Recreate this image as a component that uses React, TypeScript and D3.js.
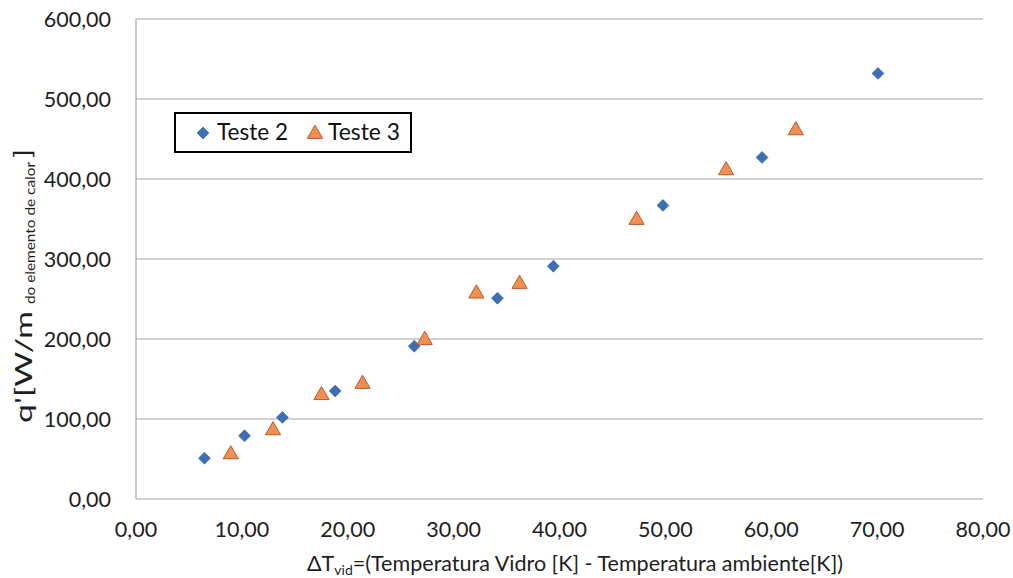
import React from "react";
import * as d3 from "d3";

// Teste 2 measurements (diamonds)
const teste2X = [6.46, 10.25, 13.83, 18.81, 26.28, 34.14, 39.42, 49.77, 59.13, 70.08];
const teste2Y = [51, 79, 102, 135, 191, 251, 291, 367, 427, 532];

// Teste 3 measurements (triangles)
const teste3X = [8.95, 12.94, 17.52, 21.4, 27.27, 32.15, 36.23, 47.28, 55.74, 62.32];
const teste3Y = [57, 87, 131, 145, 200, 258, 270, 350, 412, 462];

const xTicks = [0, 10, 20, 30, 40, 50, 60, 70, 80];
const yTicks = [0, 100, 200, 300, 400, 500, 600];

const seriesNames = ["Teste 2", "Teste 3"];

const W = 1013;
const H = 578;
const FONT = "Lato, 'Open Sans', sans-serif";
const TEXT = "#1e1e1e";
const BLUE = "#3D6FB5";
const BLUE_EDGE = "#2F5A96";
const ORANGE = "#F08F52";
const ORANGE_EDGE = "#B85A2B";

const fmt = (v: number) => v.toFixed(2).replace(".", ",");

const diamond = d3.symbol().type(d3.symbolDiamond2).size(90);
const triangle = d3.symbol().type(d3.symbolTriangle).size(100);

export default function App() {
  const x = d3.scaleLinear().domain([0, 80]).range([136, 983]);
  const y = d3.scaleLinear().domain([0, 600]).range([499, 19]);

  return (
    <svg
      width={W}
      height={H}
      style={{ position: "absolute", left: 0, top: 0, background: "#fff" }}
      fontFamily={FONT}
    >
      {/* horizontal gridlines */}
      {yTicks.map((t) => (
        <line
          key={"g" + t}
          x1={x(0)}
          x2={x(80)}
          y1={y(t)}
          y2={y(t)}
          stroke="#A6A6A6"
          strokeWidth={1.2}
        />
      ))}
      {/* vertical axis line */}
      <line x1={x(0)} x2={x(0)} y1={y(600)} y2={y(0)} stroke="#A6A6A6" strokeWidth={1.2} />

      {/* y tick labels */}
      {yTicks.map((t) => (
        <text key={"yl" + t} x={111} y={y(t) + 7.5} textAnchor="end" fontSize={21.5} fill={TEXT}>
          {fmt(t)}
        </text>
      ))}

      {/* x tick labels */}
      {xTicks.map((t) => (
        <text key={"xl" + t} x={x(t)} y={537} textAnchor="middle" fontSize={21.5} fill={TEXT}>
          {fmt(t)}
        </text>
      ))}

      {/* x axis title */}
      <text
        x={307}
        y={571}
        fontSize={21.5}
        fill={TEXT}
        textLength={536}
        lengthAdjust="spacingAndGlyphs"
      >
        ΔT
        <tspan fontSize={14} dy={4}>vid</tspan>
        <tspan dy={-4}>=(Temperatura Vidro [K] - Temperatura ambiente[K])</tspan>
      </text>

      {/* y axis title, rotated */}
      <g transform="rotate(-90)">
        <text
          x={-423}
          y={32}
          fontSize={24}
          fill={TEXT}
          textLength={112}
          lengthAdjust="spacingAndGlyphs"
        >
          q'[W/m
        </text>
        <text
          x={-304}
          y={35}
          fontSize={14}
          fill={TEXT}
          textLength={142}
          lengthAdjust="spacingAndGlyphs"
        >
          do elemento de calor
        </text>
        <text x={-158} y={31} fontSize={24} fill={TEXT} textLength={9} lengthAdjust="spacingAndGlyphs">
          ]
        </text>
      </g>

      {/* Teste 2 points */}
      {teste2X.map((v, i) => (
        <path
          key={"a" + i}
          d={diamond() as string}
          transform={`translate(${x(v)},${y(teste2Y[i])})`}
          fill={BLUE}
          stroke={BLUE_EDGE}
          strokeWidth={0.6}
        />
      ))}

      {/* Teste 3 points */}
      {teste3X.map((v, i) => (
        <path
          key={"b" + i}
          d={triangle() as string}
          transform={`translate(${x(v)},${y(teste3Y[i]) + 1})`}
          fill={ORANGE}
          stroke={ORANGE_EDGE}
          strokeWidth={1}
        />
      ))}

      {/* legend */}
      <rect x={175} y={113} width={236} height={39} fill="#fff" stroke="#000" strokeWidth={2} />
      <path
        d={diamond() as string}
        transform="translate(203,133)"
        fill={BLUE}
        stroke={BLUE_EDGE}
        strokeWidth={0.6}
      />
      <text x={217} y={140} fontSize={23} fill="#111" textLength={71} lengthAdjust="spacingAndGlyphs">
        {seriesNames[0]}
      </text>
      <path
        d={triangle() as string}
        transform="translate(315,134)"
        fill={ORANGE}
        stroke={ORANGE_EDGE}
        strokeWidth={1}
      />
      <text x={328} y={140} fontSize={23} fill="#111" textLength={72} lengthAdjust="spacingAndGlyphs">
        {seriesNames[1]}
      </text>
    </svg>
  );
}
